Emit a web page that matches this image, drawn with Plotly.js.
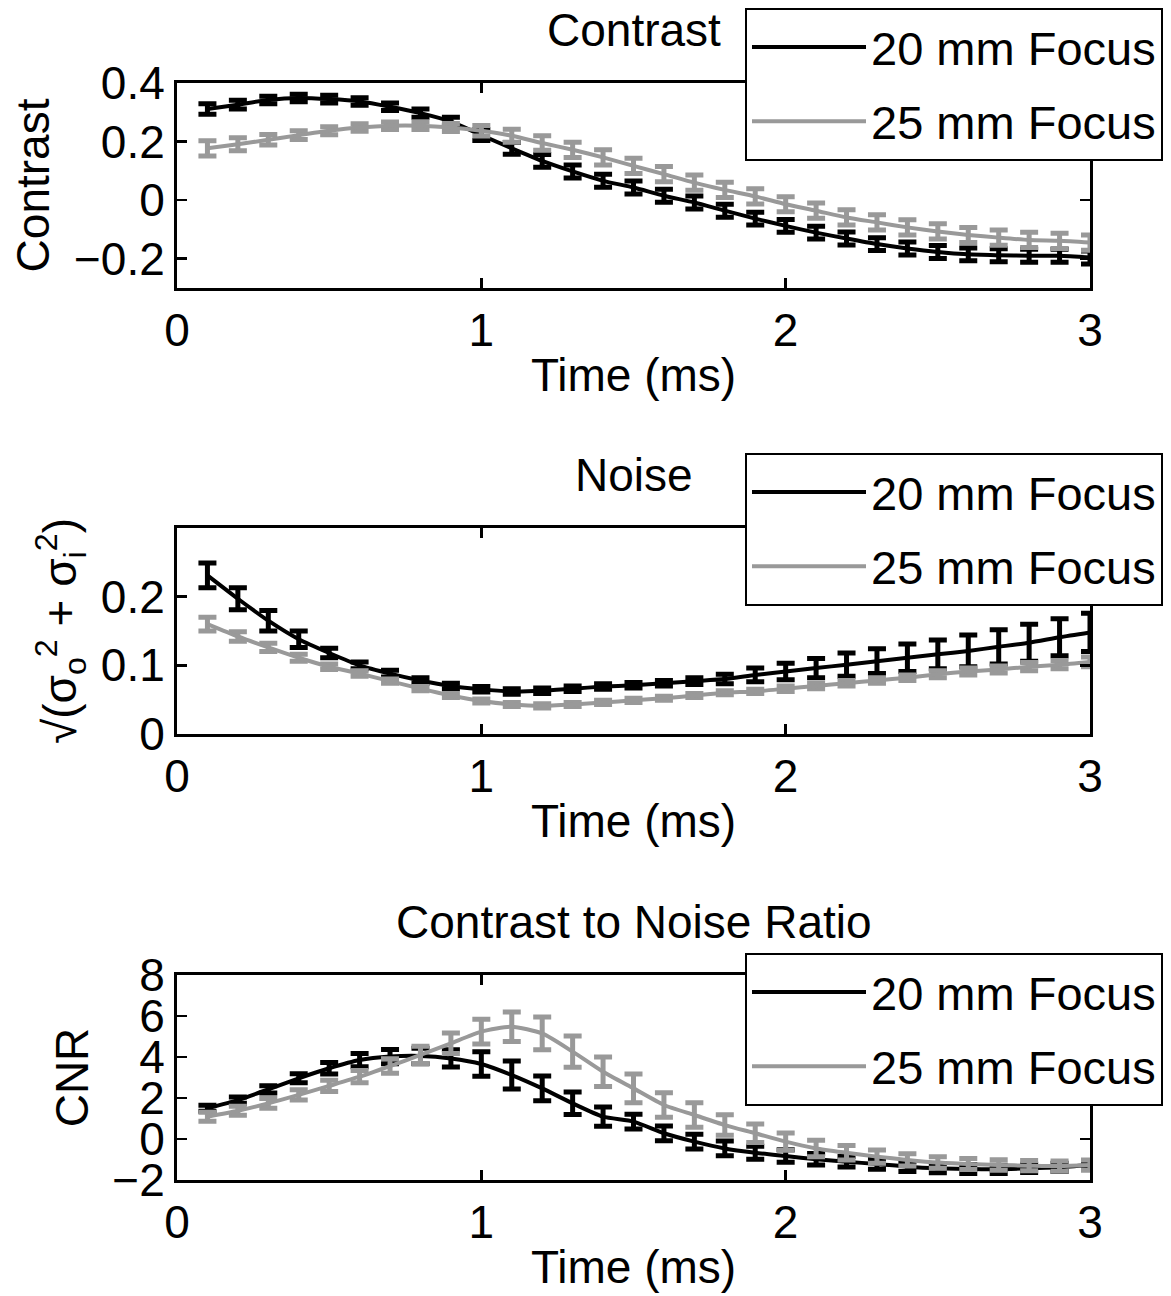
<!DOCTYPE html>
<html>
<head>
<meta charset="utf-8">
<script src="https://cdn.plot.ly/plotly-3.0.1.min.js"></script>
<style>html,body{margin:0;padding:0;background:#fff;}#chart{width:1171px;height:1296px;}</style>
</head>
<body>
<div id="chart"></div>
<script>
const time = [0.1,0.2,0.3,0.4,0.5,0.6,0.7,0.8,0.9,1.0,1.1,1.2,1.3,1.4,1.5,1.6,1.7,1.8,1.9,2.0,2.1,2.2,2.3,2.4,2.5,2.6,2.7,2.8,2.9,3.0];
const seriesNames = ['20 mm Focus', '25 mm Focus'];

const contrast20 = [0.311,0.326,0.342,0.349,0.345,0.337,0.319,0.297,0.268,0.222,0.177,0.134,0.098,0.066,0.043,0.015,-0.008,-0.036,-0.063,-0.088,-0.111,-0.131,-0.150,-0.165,-0.177,-0.185,-0.188,-0.190,-0.190,-0.196];
const contrast20Err = [0.018,0.015,0.013,0.013,0.013,0.013,0.013,0.014,0.015,0.018,0.020,0.022,0.022,0.022,0.022,0.022,0.022,0.022,0.022,0.022,0.022,0.022,0.022,0.022,0.022,0.022,0.022,0.022,0.022,0.022];
const contrast25 = [0.177,0.191,0.206,0.222,0.237,0.248,0.254,0.254,0.248,0.237,0.220,0.195,0.172,0.146,0.117,0.089,0.060,0.035,0.013,-0.014,-0.036,-0.059,-0.076,-0.093,-0.107,-0.119,-0.128,-0.136,-0.139,-0.145];
const contrast25Err = [0.026,0.022,0.018,0.015,0.014,0.013,0.013,0.013,0.014,0.018,0.022,0.025,0.026,0.026,0.026,0.026,0.026,0.026,0.026,0.026,0.026,0.026,0.026,0.026,0.026,0.026,0.026,0.026,0.026,0.026];

const noise20 = [0.231,0.197,0.165,0.138,0.118,0.100,0.088,0.078,0.070,0.065,0.062,0.063,0.066,0.069,0.071,0.074,0.077,0.080,0.086,0.091,0.096,0.101,0.106,0.111,0.116,0.121,0.127,0.133,0.141,0.148];
const noise20Err = [0.018,0.016,0.015,0.012,0.007,0.005,0.005,0.004,0.004,0.004,0.004,0.004,0.004,0.004,0.004,0.004,0.005,0.007,0.010,0.012,0.014,0.017,0.018,0.020,0.021,0.023,0.025,0.027,0.027,0.028];
const noise25 = [0.160,0.142,0.126,0.111,0.098,0.088,0.077,0.066,0.056,0.048,0.043,0.041,0.043,0.046,0.049,0.052,0.056,0.060,0.062,0.066,0.070,0.074,0.078,0.082,0.087,0.091,0.094,0.098,0.101,0.105];
const noise25Err = [0.010,0.007,0.006,0.005,0.004,0.004,0.003,0.003,0.003,0.003,0.003,0.003,0.003,0.003,0.003,0.003,0.003,0.003,0.003,0.004,0.004,0.004,0.004,0.004,0.005,0.005,0.005,0.006,0.006,0.007];

const cnr20 = [1.50,1.90,2.42,2.96,3.45,3.85,4.02,4.05,3.93,3.66,3.12,2.47,1.74,1.09,0.85,0.28,-0.13,-0.46,-0.67,-0.83,-0.99,-1.11,-1.22,-1.35,-1.43,-1.46,-1.48,-1.43,-1.38,-1.27];
const cnr20Err = [0.15,0.15,0.18,0.22,0.28,0.32,0.35,0.38,0.42,0.60,0.68,0.60,0.55,0.47,0.36,0.36,0.36,0.36,0.32,0.30,0.28,0.26,0.25,0.24,0.22,0.22,0.20,0.20,0.20,0.20];
const cnr25 = [1.09,1.38,1.74,2.15,2.59,3.04,3.56,4.10,4.67,5.24,5.48,5.15,4.26,3.28,2.47,1.66,1.17,0.68,0.28,-0.13,-0.46,-0.67,-0.86,-1.02,-1.15,-1.22,-1.27,-1.30,-1.32,-1.27];
const cnr25Err = [0.22,0.22,0.24,0.25,0.27,0.30,0.35,0.42,0.50,0.60,0.72,0.80,0.76,0.72,0.70,0.60,0.60,0.50,0.45,0.42,0.40,0.35,0.32,0.30,0.28,0.27,0.26,0.25,0.25,0.25];

const panelTitles = ['Contrast', 'Noise', 'Contrast to Noise Ratio'];
const yTitles = ['Contrast', '√(σ<sub>o</sub><sup>2</sup> + σ<sub>i</sub><sup>2</sup>)', 'CNR'];
const xTitle = 'Time (ms)';

const colors = ['#000000', '#999999'];
const FONT = 'Liberation Sans, Arial, Helvetica, sans-serif';
const FS = 46;

function mk(y, err, idx, axisIdx) {
  const sfx = axisIdx === 1 ? '' : String(axisIdx);
  return {
    x: time, y: y, type: 'scatter', mode: 'lines', name: seriesNames[idx],
    xaxis: 'x' + sfx, yaxis: 'y' + sfx,
    legend: 'legend' + sfx,
    legendgroup: 'g' + axisIdx + '_' + idx,
    line: {color: colors[idx], width: 4, shape: 'spline', smoothing: 0.6},
    error_y: {type: 'data', array: err, visible: true, color: colors[idx], thickness: 5, width: 9}
  };
}

const data = [
  mk(contrast20, contrast20Err, 0, 1), mk(contrast25, contrast25Err, 1, 1),
  mk(noise20, noise20Err, 0, 2), mk(noise25, noise25Err, 1, 2),
  mk(cnr20, cnr20Err, 0, 3), mk(cnr25, cnr25Err, 1, 3)
];

const H = 1296;
const doms = [[1-288/H, 1-83/H], [1-734/H, 1-528/H], [1-1180/H, 1-975/H]];
const yRanges = [[-0.3, 0.4], [0, 0.3], [-2, 8]];
const yTicks = [[-0.2, 0, 0.2, 0.4], [0, 0.1, 0.2], [-2, 0, 2, 4, 6, 8]];
const legTops = [8, 453, 953];

function xax(i) {
  return {
    domain: [0, 1], range: [0, 3], tickvals: [0, 1, 2, 3],
    anchor: i === 1 ? 'y' : 'y' + i,
    ticks: 'inside', ticklen: 10, tickwidth: 2.5, tickcolor: '#000',
    showline: true, linewidth: 3, linecolor: '#000', mirror: 'ticks',
    showgrid: false, zeroline: false,
    tickfont: {family: FONT, size: FS, color: '#000'},
    title: {text: xTitle, font: {family: FONT, size: FS, color: '#000'}, standoff: 4}
  };
}
function yax(i) {
  return {
    domain: doms[i-1], range: yRanges[i-1], tickvals: yTicks[i-1],
    anchor: i === 1 ? 'x' : 'x' + i,
    ticks: 'inside', ticklen: 10, tickwidth: 2.5, tickcolor: '#000',
    showline: true, linewidth: 3, linecolor: '#000', mirror: 'ticks',
    showgrid: false, zeroline: false,
    tickfont: {family: FONT, size: FS, color: '#000'},
    title: {text: yTitles[i-1], font: {family: FONT, size: FS, color: '#000'}, standoff: 10}
  };
}
function leg(i) {
  return {
    x: (745-177)/913, xanchor: 'left', y: 1 - legTops[i-1]/H, yanchor: 'top',
    bgcolor: '#ffffff', bordercolor: '#000', borderwidth: 2,
    font: {family: FONT, size: 47, color: '#000'},
    itemwidth: 114, tracegroupgap: 10, traceorder: 'grouped'
  };
}

const layout = {
  width: 1171, height: 1296,
  margin: {l: 177, r: 81, t: 0, b: 0},
  paper_bgcolor: '#fff', plot_bgcolor: '#fff',
  showlegend: true,
  xaxis: xax(1), yaxis: yax(1),
  xaxis2: xax(2), yaxis2: yax(2),
  xaxis3: xax(3), yaxis3: yax(3),
  legend: leg(1), legend2: leg(2), legend3: leg(3),
  annotations: panelTitles.map((t, k) => ({
    text: t, xref: 'paper', yref: 'paper', x: 0.5, y: doms[k][1], yshift: 25,
    xanchor: 'center', yanchor: 'bottom', showarrow: false,
    font: {family: FONT, size: FS, color: '#000'}
  }))
};

Plotly.newPlot('chart', data, layout, {displayModeBar: false, staticPlot: true});
</script>
</body>
</html>
